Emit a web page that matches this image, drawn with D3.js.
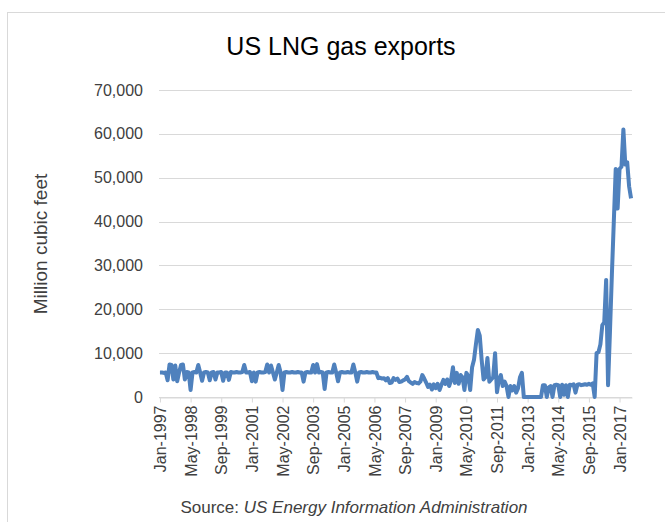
<!DOCTYPE html>
<html>
<head>
<meta charset="utf-8">
<script src="https://cdn.jsdelivr.net/npm/d3@7"></script>
<style>
  body { margin: 0; background: #fff; }
  svg { display: block; font-family: "Liberation Sans", Arial, sans-serif; }
</style>
</head>
<body>
<svg width="665" height="522"></svg>
<script>
const svg = d3.select("svg"),
      width = +svg.attr("width"),
      height = +svg.attr("height");

// monthly US LNG exports, million cubic feet, Jan-1997 .. Jul-2017
const exports1997to2005 = [
  5600,5600,5500,5600,3800,7400,7300,4000,7200,3600,5600,7300,
  7400,4000,5700,5600,1600,5600,5700,5600,7300,5600,3700,5600,
  5700,5600,3800,5600,5700,4000,5600,5600,5700,3700,5600,5600,
  3900,5700,5600,5600,5700,5600,5600,5700,7300,5600,5600,5700,
  3600,5600,3500,5600,5700,5600,5600,5700,7400,5600,7200,5600,
  4000,5600,7300,5600,1600,5600,5700,5600,5600,5700,5600,5600,
  5700,5600,5600,3500,5600,5700,5600,5600,7300,5600,7500,5600,
  5700,5600,1800,5600,5700,5600,5600,7400,5600,3600,5600,5700,
  5600,5600,5700,5600,5600,7400,5600,3500,5600,5700,5600,5600
];
const exports2006to2012 = [
  5700,5600,5600,5700,5600,5600,4300,4400,4200,4300,3800,4300,
  3200,3300,4300,3900,4200,3400,3500,3800,4000,4600,3600,3300,
  3000,3400,3200,3100,3500,5000,4200,3300,2300,2800,1700,2900,
  2000,3000,1600,2800,3900,3000,4000,2500,3800,6800,3200,5500,
  3000,5000,4500,1600,5500,4800,1600,6800,8500,12000,15300,14000,
  8400,4000,4500,8900,3500,4000,4500,10000,1100,4000,5000,2500,
  3500,2500,0,2500,1500,2500,1000,2000,4500,5500,0,0
];
const exports2013to2017 = [
  0,0,0,0,0,0,0,0,2700,2700,0,2200,
  2500,0,2700,2800,2700,0,2800,500,2700,0,2800,2700,
  2900,1000,2800,2900,2700,2800,2900,2800,3000,2800,3100,0,
  10000,10200,12000,16400,17000,26700,2700,15000,28000,40000,52000,43000,
  52000,52500,61000,53000,53500,48000,45300
];
const values = exports1997to2005.concat(exports2006to2012, exports2013to2017);

const tickLabels = ["Jan-1997","May-1998","Sep-1999","Jan-2001","May-2002","Sep-2003",
  "Jan-2005","May-2006","Sep-2007","Jan-2009","May-2010","Sep-2011",
  "Jan-2013","May-2014","Sep-2015","Jan-2017"];
const labelEvery = 16;
const yTicks = [0,10000,20000,30000,40000,50000,60000,70000];

const colors = {
  line: "#4f81bd",
  grid: "#d9d9d9",
  text: "#404040"
}

const x = d3.scaleLinear().domain([-0.5, values.length - 0.5]).range([159, 632]);
const y = d3.scaleLinear().domain([0, 70000]).range([397, 90]);

// chart frame
svg.append("rect")
  .attr("x", 7.5).attr("y", 12.5)
  .attr("width", 800).attr("height", 600)
  .attr("fill", "none")
  .attr("stroke", colors.grid);

svg.append("text")
  .attr("x", 341).attr("y", 55)
  .attr("text-anchor", "middle")
  .attr("font-size", 25)
  .attr("fill", "#000")
  .text("US LNG gas exports");

// gridlines
svg.append("g").selectAll("line")
  .data(yTicks).enter().append("line")
  .attr("x1", 159).attr("x2", 632)
  .attr("y1", d => Math.round(y(d)) + 0.5)
  .attr("y2", d => Math.round(y(d)) + 0.5)
  .attr("stroke", colors.grid);

// y axis labels
const yAxis = svg.append("g")
  .attr("transform", "translate(159,0)")
  .call(d3.axisLeft(y).tickValues(yTicks).tickFormat(d3.format(",")).tickSize(0).tickPadding(16));
yAxis.select(".domain").remove();
yAxis.selectAll("text").attr("font-size", 16).attr("fill", colors.text)
  .attr("font-family", "Liberation Sans, Arial, sans-serif");

svg.append("text")
  .attr("transform", "translate(47,244) rotate(-90)")
  .attr("text-anchor", "middle")
  .attr("font-size", 19)
  .attr("fill", colors.text)
  .text("Million cubic feet");

// x axis
const tickIdx = tickLabels.map((d, i) => i * labelEvery);
const xAxis = svg.append("g")
  .attr("transform", "translate(0,397.5)")
  .call(d3.axisBottom(x).tickValues(tickIdx)
    .tickFormat(i => tickLabels[i / labelEvery]).tickSize(5).tickSizeOuter(0));
xAxis.select(".domain").attr("stroke", colors.grid);
xAxis.selectAll(".tick line").attr("stroke", colors.grid);
xAxis.selectAll("text")
  .attr("transform", "rotate(-90)")
  .attr("text-anchor", "end")
  .attr("x", -8).attr("y", 0).attr("dy", "0.35em")
  .attr("font-size", 16)
  .attr("fill", colors.text)
  .attr("font-family", "Liberation Sans, Arial, sans-serif");

// data line
const line = d3.line()
  .x((d, i) => x(i))
  .y(d => y(d));

svg.append("path")
  .datum(values)
  .attr("d", line)
  .attr("fill", "none")
  .attr("stroke", colors.line)
  .attr("stroke-width", 4)
  .attr("stroke-linejoin", "round");

// source note
const src = svg.append("text")
  .attr("x", 354).attr("y", 513)
  .attr("text-anchor", "middle")
  .attr("font-size", 17)
  .attr("fill", colors.text);
src.append("tspan").text("Source: ");
src.append("tspan").attr("font-style", "italic").text("US Energy Information Administration");
</script>
</body>
</html>
